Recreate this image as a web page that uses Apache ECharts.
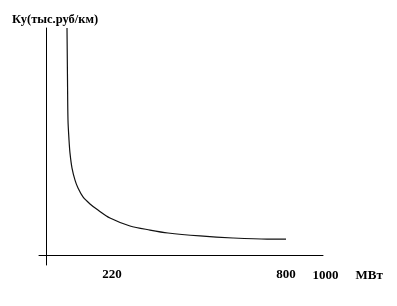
<!DOCTYPE html>
<html>
<head>
<meta charset="utf-8">
<script src="https://cdn.jsdelivr.net/npm/echarts@6/dist/echarts.min.js"></script>
<style>html,body{margin:0;padding:0;background:#fff}#c{width:397px;height:306px}</style>
</head>
<body>
<div id="c"></div>
<script>
// Capacity, MW
const powerMW = [70, 71.7, 73.3, 76.7, 80, 86.7, 96.7, 106.7, 123.3, 146.7, 173.3, 213.3, 280, 346.7, 406.7, 513.3, 623.3, 736.7, 800];
// Specific cost Ку, thousand rub/km (schematic units)
const costKy = [100, 77.1, 59.5, 50.7, 44.9, 38.3, 33.0, 29.5, 25.6, 22.5, 19.8, 16.3, 12.8, 11.0, 9.7, 8.4, 7.5, 7.0, 7.0];
const xTickValues = [220, 800];
const xEndLabel = '1000';
const xUnit = 'МВт';
const yTitle = 'Ку(тыс.руб/км)';

const chart = echarts.init(document.getElementById('c'), null, {renderer: 'canvas'});
const font = 'Liberation Serif';
chart.setOption({
  animation: false,
  backgroundColor: '#fff',
  title: {
    text: yTitle, left: 12, top: 13, padding: 0,
    textStyle: {fontFamily: font, fontWeight: 'bold', fontSize: 12.5, color: '#000'}
  },
  grid: {left: 39, right: 74, top: 28, bottom: 41, containLabel: false, outerBoundsMode: 'none'},
  xAxis: {
    type: 'value', min: -23.33, max: 923.33,
    splitLine: {show: false},
    axisTick: {show: false},
    axisLine: {onZero: true, lineStyle: {color: '#000', width: 1}},
    axisLabel: {
      customValues: xTickValues, margin: 3,
      fontFamily: font, fontWeight: 'bold', fontSize: 13, color: '#000'
    },
    name: '{a|' + xEndLabel + '}{b|' + xUnit + '}',
    nameLocation: 'end', nameGap: -10.5,
    nameTextStyle: {
      verticalAlign: 'top', padding: [14, 0, 0, 0],
      fontFamily: font, fontWeight: 'bold', fontSize: 13, color: '#000',
      rich: {
        a: {fontFamily: font, fontWeight: 'bold', fontSize: 13, color: '#000'},
        b: {fontFamily: font, fontWeight: 'bold', fontSize: 13, color: '#000', padding: [0, 0, 0, 17]}
      }
    }
  },
  yAxis: {
    type: 'value', min: -4.4, max: 100,
    splitLine: {show: false},
    axisTick: {show: false},
    axisLabel: {show: false},
    axisLine: {onZero: true, lineStyle: {color: '#000', width: 1}}
  },
  series: [{
    type: 'line',
    data: powerMW.map((x, i) => [x, costKy[i]]),
    showSymbol: false,
    smooth: 0.3,
    lineStyle: {color: '#111', width: 1.2}
  }]
});
</script>
</body>
</html>
